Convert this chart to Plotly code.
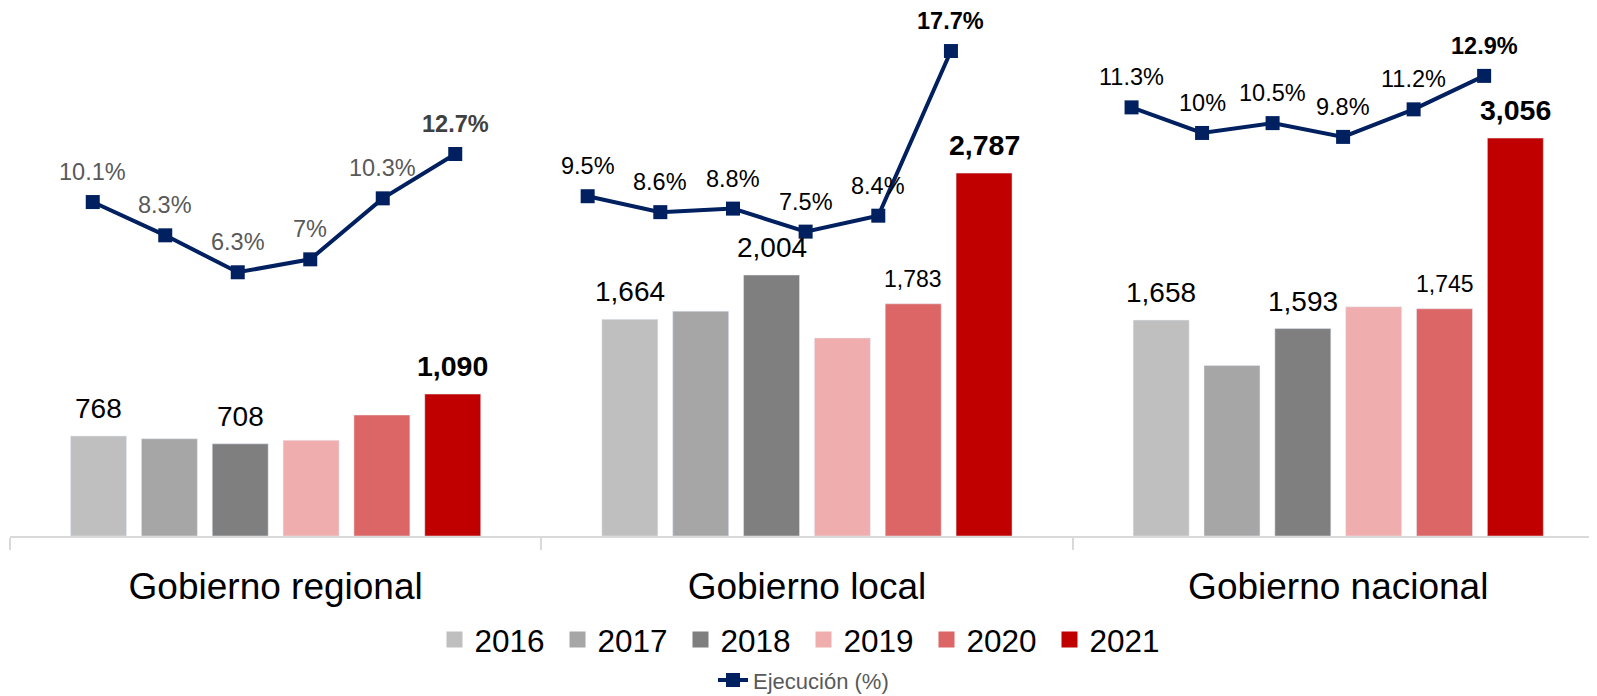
import plotly.graph_objects as go

categorias = ["Gobierno regional", "Gobierno local", "Gobierno nacional"]
anios = ["2016", "2017", "2018", "2019", "2020", "2021"]

# montos por año (regional, local, nacional)
monto_2016 = [768, 1664, 1658]
monto_2017 = [747, 1727, 1309]
monto_2018 = [708, 2004, 1593]
monto_2019 = [735, 1521, 1760]
monto_2020 = [929, 1783, 1745]
monto_2021 = [1090, 2787, 3056]

# ejecución (%) por nivel de gobierno, 2016-2021
ejec_regional = [10.1, 8.3, 6.3, 7.0, 10.3, 12.7]
ejec_local = [9.5, 8.6, 8.8, 7.5, 8.4, 17.7]
ejec_nacional = [11.3, 10.0, 10.5, 9.8, 11.2, 12.9]

# años con etiqueta visible en cada grupo
etiquetas = [["2016", "2018", "2021"],
             ["2016", "2018", "2020", "2021"],
             ["2016", "2018", "2020", "2021"]]

montos = [monto_2016, monto_2017, monto_2018, monto_2019, monto_2020, monto_2021]
lineas = [ejec_regional, ejec_local, ejec_nacional]

colores = ["#BFBFBF", "#A6A6A6", "#7F7F7F", "#EFADAD", "#DC6565", "#C00000"]
FONT = "Arial, Liberation Sans, sans-serif"

# the page puts the figure 8px in from the top-left corner
W, H = 1589, 688
ML, MR, MT, MB = 2, 0, 0, 160
BARGAP = 0.2
XRANGE = [-0.5, 2.487]
px_unit = (W - ML - MR) / (XRANGE[1] - XRANGE[0])
pitch = (1 - BARGAP) / len(anios) * px_unit

fig = go.Figure()
for anio, valores, color in zip(anios, montos, colores):
    fig.add_trace(go.Bar(name=anio, x=categorias, y=valores, marker_color=color,
                         showlegend=False, cliponaxis=False))
    # legend entry with a larger square
    fig.add_trace(go.Scatter(name=anio, x=[None], y=[None], mode="markers",
                             marker=dict(symbol="square", size=16, color=color),
                             legend="legend"))

dominios = [(0.0293, 0.3034), (0.3411, 0.6158), (0.6845, 0.9511)]
rangos = [(-7.97, 20.60), (-9.69, 20.13), (-10.48, 16.35)]
colores_pct = [("#595959", "#404040"), ("#000000", "#000000"), ("#000000", "#000000")]

anotaciones = []
for k, vals in enumerate(lineas):
    n = k + 2
    fig.add_trace(go.Scatter(x=anios, y=vals, xaxis=f"x{n}", yaxis=f"y{n}",
                             mode="lines+markers", name="Ejecución (%)",
                             line=dict(color="#002060", width=4),
                             marker=dict(symbol="square", size=14, color="#002060"),
                             showlegend=(k == 0), legend="legend2", cliponaxis=False))
    fig.layout[f"xaxis{n}"] = dict(domain=list(dominios[k]), anchor=f"y{n}", type="category",
                                   range=[-0.5, 5.5], visible=False)
    fig.layout[f"yaxis{n}"] = dict(domain=[0, 1], anchor=f"x{n}", range=list(rangos[k]),
                                   visible=False)
    for j, v in enumerate(vals):
        ultimo = j == len(anios) - 1
        txt = f"{v:g}%"
        anotaciones.append(dict(
            xref=f"x{n}", yref=f"y{n}", x=j, y=v, yanchor="bottom", yshift=15,
            showarrow=False, text=f"<b>{txt}</b>" if ultimo else txt,
            font=dict(family=FONT, size=23.5, color=colores_pct[k][1 if ultimo else 0])))

# etiquetas de las barras
for i, (anio, valores) in enumerate(zip(anios, montos)):
    for c, v in zip(categorias, valores):
        if anio not in etiquetas[categorias.index(c)]:
            continue
        txt = f"{v:,}"
        size = 28
        if anio == "2020":
            size = 23
        if anio == "2021":
            txt = f"<b>{txt}</b>"
            size = 28.5
        anotaciones.append(dict(
            xref="x", yref="y", x=c, y=v, yanchor="bottom", yshift=10,
            xshift=(i - 2.5) * pitch, showarrow=False, text=txt,
            font=dict(family=FONT, size=size, color="#000000")))

fig.update_layout(
    width=W, height=H,
    margin=dict(l=ML, r=MR, t=MT, b=MB, autoexpand=False),
    barmode="group", bargap=BARGAP, bargroupgap=0.21,
    paper_bgcolor="white", plot_bgcolor="rgba(0,0,0,0)",
    font=dict(family=FONT, color="#000000"),
    annotations=anotaciones,
    xaxis=dict(range=XRANGE, tickson="boundaries", ticks="outside", ticklen=12,
               tickcolor="#D9D9D9", tickwidth=2, showline=True, linecolor="#D9D9D9",
               linewidth=2, showgrid=False, tickfont=dict(size=37, color="#000000"),
               ticklabelstandoff=17),
    yaxis=dict(range=[0, 4055], visible=False, showgrid=False),
    legend=dict(orientation="h", x=0.5, xanchor="center", y=-0.196, yanchor="middle",
                entrywidth=78, font=dict(size=31.5, color="#000000")),
    legend2=dict(orientation="h", x=0.5, xanchor="center", y=-0.273, yanchor="middle",
                 font=dict(size=22, color="#595959")),
)

fig.write_html("out.html")
